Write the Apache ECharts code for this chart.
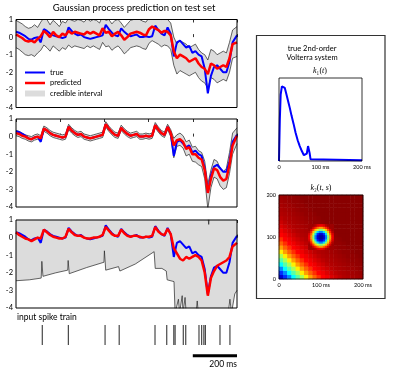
<!DOCTYPE html>
<html>
<head>
<meta charset="utf-8">
<script src="https://cdn.jsdelivr.net/npm/echarts@6/dist/echarts.min.js"></script>
<style>
html, body { margin: 0; padding: 0; background: #fff; }
#chart { width: 399px; height: 371px; }
</style>
</head>
<body>
<div id="chart"></div>
<script>
// time axis of the test set (ms)
const timeMs = [0,14,28,42,56,70,84,98,112,126,140,154,168,182,196,210,224,238,252,266,280,294,308,322,336,350,364,378,392,406,420,434,448,462,476,490,504,518,532,546,560,574,588,602,616,630,644,658,672,686,700,714,728,742,756,770,784,798,812,826,840,854,868,882,896,910,924,938,952,966,980,1000];

const trueVals = [0.3,0.25,0.15,0.05,-0.1,-0.15,-0.05,0,-0.3,0.45,0.35,0.2,0.1,0.05,0,-0.05,0,0.55,0.35,0.2,0.1,0.15,0,-0.05,-0.1,-0.05,0,0.05,0.1,0.7,0.45,0.25,0.1,0.05,0.5,0.3,0.15,0.05,0.1,0.15,0,0,0.05,0,0.05,0.65,0.4,0.2,0.1,0.55,0.2,-1.1,-0.3,-0.2,-0.4,-0.6,-0.5,-0.9,-0.8,-1.0,-1.1,-1.8,-3.2,-2.2,-1.7,-1.6,-1.8,-2.0,-2.0,-1.4,-0.3,0.1];

// linear functional
const pred1 = [0.15,0.05,-0.05,-0.2,-0.25,-0.2,-0.3,-0.1,0.05,0.35,0.2,0,0.3,0.1,0,0.2,0.1,0.35,0.2,0.3,0.25,0.2,0.15,0.3,0.2,0.3,0.2,0.1,0.5,0.25,0.3,0.05,0.2,0.3,0.1,-0.15,0,0.2,0.25,0.3,0.25,0.15,0.1,0.45,0.6,0.5,0.4,0.25,0.35,0.3,0.1,-0.8,-1.2,-1.0,-1.1,-1.2,-1.4,-1.3,-1.2,-1.5,-1.7,-1.8,-2.1,-1.5,-1.6,-1.8,-1.7,-1.6,-1.7,-1.2,-0.4,-0.3];
const upper1 = [0.95,0.85,0.75,0.6,0.5,0.55,0.7,0.55,0.85,1.1,1.0,0.7,0.95,0.8,0.6,0.9,0.8,1.05,0.95,0.9,1.0,0.95,0.85,1.05,0.9,1.0,0.95,0.8,1.2,0.95,1.0,0.75,0.95,1.0,0.8,0.55,0.75,0.95,1.0,1.05,1.0,0.9,0.85,1.1,1.3,1.2,1.1,1.0,1.05,1.0,0.8,0.0,-0.4,-0.2,-0.3,-0.4,-0.6,-0.5,-0.4,-0.7,-0.9,-1.0,-1.3,-0.7,-0.8,-1.0,-0.9,-0.8,-0.9,-0.3,0.4,0.6];
const lower1 = [-0.6,-0.7,-0.85,-1.0,-1.05,-1.0,-1.1,-0.9,-0.75,-0.45,-0.6,-0.8,-0.5,-0.65,-0.8,-0.6,-0.7,-0.45,-0.6,-0.5,-0.55,-0.6,-0.65,-0.5,-0.6,-0.5,-0.6,-0.7,-0.3,-0.55,-0.5,-0.75,-0.6,-0.5,-0.7,-0.95,-0.8,-0.6,-0.55,-0.5,-0.55,-0.65,-0.7,-0.35,-0.2,-0.3,-0.4,-0.55,-0.45,-0.5,-0.7,-1.6,-2.1,-1.9,-2.0,-2.1,-2.2,-2.1,-2.0,-2.3,-2.5,-2.6,-2.9,-2.3,-2.4,-2.6,-2.5,-2.4,-2.5,-2.0,-1.2,-1.1];

// Schoenberg
const pred2 = [0.2,0.15,0.05,0,-0.1,-0.15,-0.05,0,-0.1,0.45,0.35,0.2,0.1,0.05,0,-0.05,0,0.55,0.35,0.2,0.1,0.15,0,-0.05,-0.1,-0.05,0,0.05,0.1,0.7,0.45,0.25,0.1,0.05,0.5,0.3,0.15,0.05,0.1,0.15,0,0,0.05,0,0.05,0.65,0.4,0.2,0.1,0.55,0.2,-0.5,-0.2,-0.15,-0.3,-0.7,-0.6,-1.0,-1.0,-1.2,-1.3,-1.9,-3.2,-2.4,-1.8,-1.9,-2.3,-2.5,-2.4,-1.6,-0.5,0.05];
const upper2 = [0.35,0.3,0.2,0.1,0.05,0,0.1,0.15,0.05,0.6,0.5,0.35,0.25,0.2,0.15,0.1,0.15,0.7,0.5,0.35,0.25,0.3,0.15,0.1,0.05,0.1,0.15,0.2,0.25,0.85,0.6,0.4,0.25,0.2,0.65,0.45,0.3,0.2,0.25,0.3,0.15,0.15,0.2,0.15,0.2,0.8,0.55,0.35,0.25,0.7,0.4,-0.1,0.1,0.2,0.05,-0.3,-0.2,-0.6,-0.55,-0.8,-0.9,-1.4,-2.7,-1.9,-1.3,-1.4,-1.8,-2.0,-1.8,-0.9,0.2,0.5];
const lower2 = [0.05,0,-0.1,-0.15,-0.25,-0.3,-0.2,-0.15,-0.25,0.3,0.2,0.05,-0.05,-0.1,-0.15,-0.2,-0.15,0.4,0.2,0.05,-0.05,0,-0.15,-0.2,-0.25,-0.2,-0.15,-0.1,-0.05,0.55,0.3,0.1,-0.05,-0.1,0.35,0.15,0,-0.1,-0.05,0,-0.15,-0.15,-0.1,-0.15,-0.1,0.5,0.25,0.05,-0.05,0.4,0,-1.2,-0.55,-0.5,-0.65,-1.1,-1.0,-1.4,-1.45,-1.6,-1.7,-2.4,-4.1,-2.9,-2.3,-2.4,-2.8,-3.0,-2.9,-2.1,-1.0,-0.4];

// spikernel
const pred3 = [0.3,0.15,0.05,-0.05,-0.1,-0.2,-0.1,0,-0.05,0.45,0.3,0.15,0.05,0,-0.05,-0.05,0.05,0.5,0.3,0.15,0.1,0.1,0,-0.05,-0.05,0,0,0.05,0.15,0.6,0.4,0.2,0.1,0.1,0.45,0.25,0.1,0.05,0.1,0.1,0.05,0,0.05,0.05,0.1,0.6,0.35,0.2,0.15,0.5,0.2,-0.6,-0.9,-1.2,-1.3,-1.1,-1.2,-1.1,-1.0,-1.1,-1.3,-2.0,-3.3,-2.3,-1.9,-1.6,-1.5,-1.4,-1.3,-1.1,-0.5,-0.3];
const upper3 = [[0,1.6],[866,1.6],[872,0.75],[877,1.6],[1000,1.6]];
const lower3 = [[0,-2.45],[60,-2.4],[114,-2.3],[117,-1.35],[122,-2.2],[180,-2.0],[234,-1.85],[236,-1.3],[241,-2.05],[320,-1.7],[398,-1.4],[400,-0.75],[406,-1.85],[464,-1.65],[466,-1.55],[470,-1.9],[540,-1.5],[625,-0.8],[630,-1.75],[660,-1.75],[680,-1.9],[684,-2.4],[715,-2.5],[720,-4.3],[735,-3.5],[740,-4.3],[752,-3.3],[756,-4.3],[765,-3.4],[770,-4.3],[815,-4.3],[820,-3.6],[825,-4.3],[960,-4.3],[968,-3.5],[975,-4.3],[990,-3.2],[1000,-3.0]];

const spikeTimes = [119,237,403,467,629,682,714,720,757,768,828,840,850,857,923,968];

// true first-order kernel k1(t)
const k1Time = [0,2,4,7,10,14,18,22,26,30,35,40,45,50,55,60,64,67,70,72,74,76,80,200];
const k1Vals = [0,0.5,0.8,0.9,0.92,0.88,0.8,0.72,0.64,0.55,0.45,0.34,0.25,0.18,0.12,0.07,0.05,0.09,0.18,0.17,0.09,0.02,0.01,0.01];

// second-order kernel k2(t,s): 10 ms cells over 0-200, rows = s from 0 up
const k2Rows = [
  [.08,.17,.26,.375,.46,.54,.64,.72,.78,.83,.875,.89,.91,.925,.94,.95,.955,.96,.965,.97],
  [.17,.26,.375,.46,.54,.64,.72,.78,.83,.875,.89,.91,.925,.94,.95,.955,.96,.965,.97,.975],
  [.26,.375,.46,.54,.64,.72,.78,.83,.875,.89,.91,.925,.94,.95,.955,.96,.965,.97,.975,.98],
  [.375,.46,.54,.64,.72,.78,.83,.875,.89,.91,.925,.94,.95,.955,.96,.965,.97,.975,.98,.98],
  [.46,.54,.64,.72,.78,.83,.875,.89,.91,.925,.94,.95,.955,.96,.965,.97,.975,.98,.98,.985],
  [.54,.64,.72,.78,.83,.875,.89,.91,.925,.94,.95,.955,.96,.965,.97,.975,.98,.98,.985,.99],
  [.64,.72,.78,.83,.875,.89,.91,.925,.94,.95,.955,.96,.965,.97,.975,.98,.98,.985,.99,.99],
  [.72,.78,.83,.875,.89,.91,.925,.94,.95,.955,.96,.965,.97,.975,.98,.98,.985,.99,.99,.99],
  [.78,.83,.875,.89,.91,.925,.94,.95,.955,.96,.965,.97,.975,.98,.98,.985,.99,.99,.99,.99],
  [.83,.875,.89,.91,.925,.94,.95,.955,.96,.965,.97,.975,.98,.98,.985,.99,.99,.99,.99,.99],
  [.875,.89,.91,.925,.94,.95,.955,.96,.965,.97,.975,.98,.98,.985,.99,.99,.99,.99,.99,.99],
  [.89,.91,.925,.94,.95,.955,.96,.965,.97,.975,.98,.98,.985,.99,.99,.99,.99,.99,.99,.99],
  [.91,.925,.94,.95,.955,.96,.965,.97,.975,.98,.98,.985,.99,.99,.99,.99,.99,.99,.99,.99],
  [.925,.94,.95,.955,.96,.965,.97,.975,.98,.98,.985,.99,.99,.99,.99,.99,.99,.99,.99,.99],
  [.94,.95,.955,.96,.965,.97,.975,.98,.98,.985,.99,.99,.99,.99,.99,.99,.99,.99,.99,.99],
  [.95,.955,.96,.965,.97,.975,.98,.98,.985,.99,.99,.99,.99,.99,.99,.99,.99,.99,.99,.99],
  [.955,.96,.965,.97,.975,.98,.98,.985,.99,.99,.99,.99,.99,.99,.99,.99,.99,.99,.99,.99],
  [.96,.965,.97,.975,.98,.98,.985,.99,.99,.99,.99,.99,.99,.99,.99,.99,.99,.99,.99,.99],
  [.965,.97,.975,.98,.98,.985,.99,.99,.99,.99,.99,.99,.99,.99,.99,.99,.99,.99,.99,.99],
  [.97,.975,.98,.98,.985,.99,.99,.99,.99,.99,.99,.99,.99,.99,.99,.99,.99,.99,.99,.99]
];
// finer 5 ms patch for the ring around (100, 100): t,s from 70 to 130
const ringRows = [
  [.97,.97,.97,.95,.91,.89,.89,.91,.95,.97,.97,.97],
  [.97,.97,.91,.84,.77,.72,.72,.77,.84,.91,.97,.97],
  [.97,.91,.80,.68,.57,.50,.50,.57,.68,.80,.91,.97],
  [.95,.84,.68,.50,.34,.25,.25,.34,.50,.68,.84,.95],
  [.91,.77,.57,.34,.16,.08,.08,.16,.34,.57,.77,.91],
  [.89,.72,.50,.25,.08,.03,.03,.08,.25,.50,.72,.89],
  [.89,.72,.50,.25,.08,.03,.03,.08,.25,.50,.72,.89],
  [.91,.77,.57,.34,.16,.08,.08,.16,.34,.57,.77,.91],
  [.95,.84,.68,.50,.34,.25,.25,.34,.50,.68,.84,.95],
  [.97,.91,.80,.68,.57,.50,.50,.57,.68,.80,.91,.97],
  [.97,.97,.91,.84,.77,.72,.72,.77,.84,.91,.97,.97],
  [.97,.97,.97,.95,.91,.89,.89,.91,.95,.97,.97,.97]
];
const ringStart = 14; // first 5 ms cell of the patch (70 ms)

const panelNames = ["linear functional", "Schoenberg", "spikernel"];
const panelR2 = ["0.75", "0.95", "0.88"];

const jet = ["#00007f","#0000ff","#007fff","#00ffff","#7fff7f","#ffff00","#ff7f00","#ff0000","#7f0000"];
const sans = "Lato";
const serif = "Liberation Serif";

function pairs(arr) {
  return timeMs.map((t, i) => [t, arr[i]]);
}

let chart = echarts.init(document.getElementById("chart"));

let grids = [];
let xAxes = [];
let yAxes = [];
let series = [];
const panelTops = [19.5, 119, 220];

panelTops.forEach((top, p) => {
  grids.push({ left: 16, top: top, width: 221, height: 88, show: true, z: 10,
    backgroundColor: "transparent", borderColor: "#000", borderWidth: 1 });
  ["bottom", "top"].forEach(pos => {
    xAxes.push({
      gridIndex: p, type: "value", position: pos, min: 0, max: 1000, interval: 200,
      axisLine: { show: false },
      axisTick: { inside: true, length: 3, lineStyle: { color: "#000", width: 0.8 } },
      axisLabel: { show: false }, splitLine: { show: false }
    });
  });
  yAxes.push({
    gridIndex: p, type: "value", min: -4, max: 1, interval: 1,
    axisLine: { show: false }, axisTick: { show: false }, splitLine: { show: false },
    axisLabel: { fontFamily: sans, fontSize: 7.5, color: "#000", margin: 3 }
  });
});

// band + lines for panels
const bands = [
  [pairs(upper1), pairs(lower1), pred1],
  [pairs(upper2), pairs(lower2), pred2],
  [upper3, lower3, pred3]
];
bands.forEach((b, p) => {
  series.push({
    name: "credible interval", type: "line", xAxisIndex: 2 * p, yAxisIndex: p,
    data: b[0], symbol: "none", z: 1,
    lineStyle: { color: "#222", width: 0.7 },
    areaStyle: { color: "#dcdcdc", opacity: 1, origin: "start" }
  });
  series.push({
    name: "lower" + p, type: "line", xAxisIndex: 2 * p, yAxisIndex: p,
    data: b[1], symbol: "none", z: 1,
    lineStyle: { color: "#222", width: 0.7 },
    areaStyle: { color: "#fff", opacity: 1, origin: "start" }
  });
  series.push({
    name: "true", type: "line", xAxisIndex: 2 * p, yAxisIndex: p,
    data: pairs(trueVals), symbol: "none", z: 3,
    lineStyle: { color: "#0000ff", width: 2 }
  });
  series.push({
    name: "predicted", type: "line", xAxisIndex: 2 * p, yAxisIndex: p,
    data: pairs(b[2]), symbol: "none", z: 4,
    lineStyle: { color: "#ff0000", width: 2.5 }
  });
});

// spike train + scale bar
grids.push({ left: 16, top: 322, width: 221, height: 40 });
xAxes.push({ gridIndex: 3, type: "value", min: 0, max: 1000, show: false });
yAxes.push({ gridIndex: 3, type: "value", min: 0, max: 1, show: false });
series.push({
  type: "scatter", xAxisIndex: 6, yAxisIndex: 3, symbol: "rect", symbolSize: [1.2, 20],
  itemStyle: { color: "#1a1a1a" }, data: spikeTimes.map(t => [t, 0.675])
});
series.push({
  type: "line", xAxisIndex: 6, yAxisIndex: 3, symbol: "none",
  lineStyle: { color: "#000", width: 3 }, data: [[800, 0.155], [1000, 0.155]]
});

// k1 plot
const msLabel = v => (v === 0 ? "0" : v + " ms");
grids.push({ left: 279, top: 78, width: 83, height: 83, show: true, z: 10,
  backgroundColor: "transparent", borderColor: "#000", borderWidth: 0.8 });
xAxes.push({
  gridIndex: 4, type: "value", min: 0, max: 200, interval: 100,
  axisLine: { show: false }, axisTick: { show: false }, splitLine: { show: false },
  axisLabel: { fontFamily: sans, fontSize: 5.5, color: "#000", margin: 3, formatter: msLabel }
});
yAxes.push({ gridIndex: 4, type: "value", min: 0, max: 1, show: false });
series.push({
  type: "line", xAxisIndex: 7, yAxisIndex: 4, symbol: "none",
  lineStyle: { color: "#0000ff", width: 2 },
  data: k1Time.map((t, i) => [t, k1Vals[i]])
});

// k2 heatmap: coarse 10 ms cells + fine 5 ms cells for the ring
const cells = k2Rows[0].map((_, i) => i);
const fineCells = [];
for (let i = 0; i < 40; i++) fineCells.push(i);
grids.push({ left: 279, top: 195, width: 84, height: 84, show: true, z: 10,
  backgroundColor: "transparent", borderColor: "#000", borderWidth: 0.8 });
xAxes.push({
  gridIndex: 5, type: "value", position: "bottom", min: 0, max: 200, interval: 100,
  axisLine: { show: false }, axisTick: { show: false }, splitLine: { show: false },
  axisLabel: { fontFamily: sans, fontSize: 5.5, color: "#000", margin: 3, formatter: msLabel }
});
xAxes.push({ gridIndex: 5, type: "category", position: "top", data: cells, show: false });
xAxes.push({ gridIndex: 5, type: "category", position: "top", data: fineCells, show: false });
yAxes.push({
  gridIndex: 5, type: "value", position: "left", min: 0, max: 200, interval: 100,
  axisLine: { show: false }, axisTick: { show: false }, splitLine: { show: false },
  axisLabel: { fontFamily: sans, fontSize: 5.5, color: "#000", margin: 3 }
});
yAxes.push({ gridIndex: 5, type: "category", position: "right", data: cells, show: false });
yAxes.push({ gridIndex: 5, type: "category", position: "right", data: fineCells, show: false });

let heatData = [];
k2Rows.forEach((row, j) => row.forEach((v, i) => heatData.push([i, j, v])));
let ringData = [];
ringRows.forEach((row, j) => row.forEach((v, i) => ringData.push([ringStart + i, ringStart + j, v])));
const heatIndex = series.length;
series.push({
  type: "heatmap", xAxisIndex: 9, yAxisIndex: 6, data: heatData, z: 2,
  itemStyle: { borderWidth: 0 }
});
series.push({
  type: "heatmap", xAxisIndex: 10, yAxisIndex: 7, data: ringData, z: 3,
  itemStyle: { borderWidth: 0 }
});

let graphics = [
  { type: "text", x: 134, y: 8, style: { text: "Gaussian process prediction on test set",
    fontFamily: sans, fontSize: 9.5, fill: "#000", textAlign: "center", textVerticalAlign: "middle" } },
  { type: "text", x: 17, y: 317, style: { text: "input spike train",
    fontFamily: sans, fontSize: 8.5, fill: "#000", textVerticalAlign: "middle" } },
  { type: "text", x: 237, y: 364, style: { text: "200 ms",
    fontFamily: sans, fontSize: 8.5, fill: "#000", textAlign: "right", textVerticalAlign: "middle" } },
  { type: "rect", shape: { x: 256.5, y: 35.5, width: 128.5, height: 263 },
    style: { fill: "none", stroke: "#333", lineWidth: 1.2 } },
  { type: "text", x: 312, y: 48.5, style: { text: "true 2nd-order",
    fontFamily: sans, fontSize: 7.5, fill: "#000", textAlign: "center", textVerticalAlign: "middle" } },
  { type: "text", x: 312, y: 58, style: { text: "Volterra system",
    fontFamily: sans, fontSize: 7.5, fill: "#000", textAlign: "center", textVerticalAlign: "middle" } },
  { type: "text", x: 320, y: 71, style: { text: "{i|k}{n|₁(}{i|t}{n|)}",
    textAlign: "center", textVerticalAlign: "middle",
    rich: { i: { fontFamily: serif, fontStyle: "italic", fontSize: 8 }, n: { fontFamily: serif, fontSize: 8 } } } },
  { type: "text", x: 321, y: 187.5, style: { text: "{i|k}{n|₂(}{i|t}{n|, }{i|s}{n|)}",
    textAlign: "center", textVerticalAlign: "middle",
    rich: { i: { fontFamily: serif, fontStyle: "italic", fontSize: 8 }, n: { fontFamily: serif, fontSize: 8 } } } }
];
panelTops.forEach((top, p) => {
  graphics.push({ type: "text", x: 120, y: top + 68, style: { text: panelNames[p],
    fontFamily: sans, fontSize: 9, fill: "#000", textVerticalAlign: "middle" } });
  graphics.push({ type: "text", x: 121, y: top + 80, style: { text: "{i|r}{n|² = " + panelR2[p] + "}",
    textVerticalAlign: "middle",
    rich: { i: { fontFamily: serif, fontStyle: "italic", fontSize: 9.5 }, n: { fontFamily: serif, fontSize: 9 } } } });
});

let option = {
  animation: false,
  backgroundColor: "#fff",
  grid: grids,
  xAxis: xAxes,
  yAxis: yAxes,
  legend: {
    left: 25, top: 67.5, orient: "vertical", padding: 0, itemGap: 0.5,
    itemWidth: 20, itemHeight: 6, selectedMode: false,
    textStyle: { fontFamily: sans, fontSize: 7.5, lineHeight: 10, color: "#000" },
    data: [
      { name: "true", icon: "path://M0,0L40,0L40,4L0,4Z", itemStyle: { color: "#0000ff", borderWidth: 0 } },
      { name: "predicted", icon: "path://M0,0L32,0L32,4L0,4Z", itemStyle: { color: "#ff0000", borderWidth: 0 } },
      { name: "credible interval", icon: "rect", itemStyle: { color: "#dcdcdc", borderWidth: 0 } }
    ]
  },
  visualMap: {
    show: false, type: "continuous", min: 0, max: 1, seriesIndex: [heatIndex, heatIndex + 1],
    inRange: { color: jet }
  },
  graphic: graphics,
  series: series
};
chart.setOption(option);
</script>
</body>
</html>
